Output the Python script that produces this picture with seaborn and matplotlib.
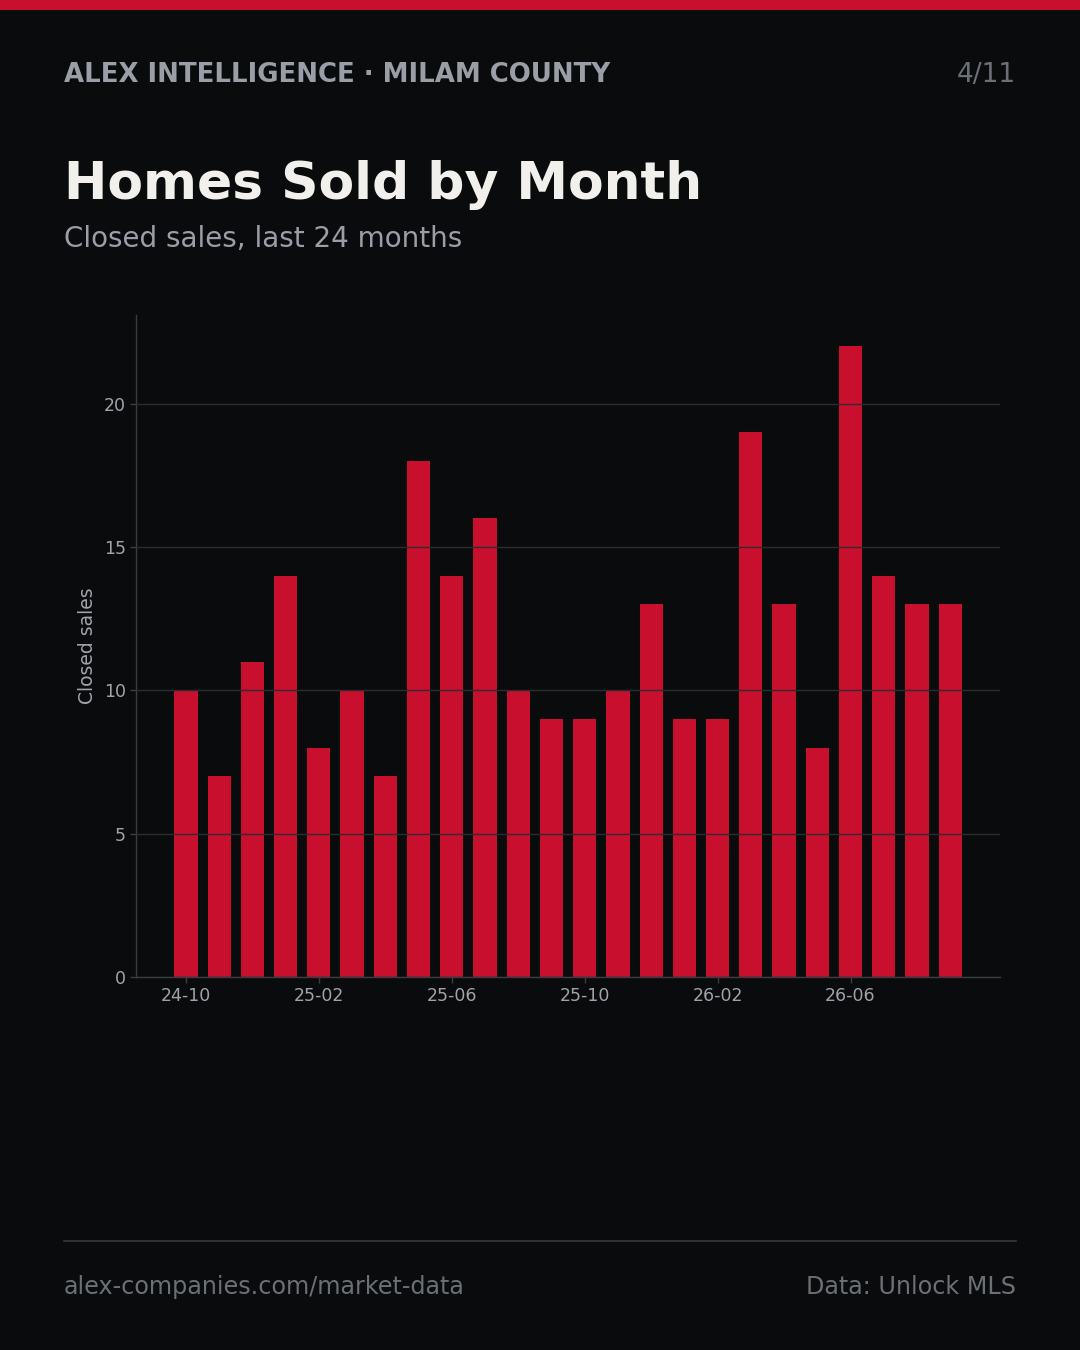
import matplotlib
matplotlib.use("Agg")
import matplotlib.pyplot as plt
import seaborn as sns
import pandas as pd
from matplotlib.lines import Line2D
from matplotlib.patches import Rectangle

months = ["24-10", "24-11", "24-12", "25-01", "25-02", "25-03", "25-04", "25-05",
          "25-06", "25-07", "25-08", "25-09", "25-10", "25-11", "25-12", "26-01",
          "26-02", "26-03", "26-04", "26-05", "26-06", "26-07", "26-08", "26-09"]
sales = [10, 7, 11, 14, 8, 10, 7, 18, 14, 16, 10, 9, 9, 10, 13, 9, 9, 19, 13, 8, 22, 14, 13, 13]
yticks = [0, 5, 10, 15, 20]

BG = "#0a0b0d"
RED = "#c8102e"
GRAY = "#9a9ea6"
DIM = "#6b6f76"
GRID = "#2a2c30"

sns.set_theme(style="dark")
plt.rcParams["font.family"] = ["DejaVu Sans"]

fig = plt.figure(figsize=(10.8, 13.5), dpi=100, facecolor=BG)
ax = fig.add_axes([0.126, 0.2763, 0.8, 0.4904], facecolor=BG)

df = pd.DataFrame({"month": months, "sales": sales})
sns.barplot(data=df, x="month", y="sales", color=RED, saturation=1, width=0.7, ax=ax)
for p in ax.patches:
    p.set_edgecolor("none")

ax.set_xlim(-1.5, len(months) + 0.5)
ax.set_ylim(0, max(sales) * 1.05)
ax.set_yticks(yticks)
ax.set_xticks(range(0, len(months), 4))
ax.set_xticklabels(months[::4])
ax.set_axisbelow(False)
ax.grid(axis="y", color=GRID, linewidth=1)
ax.grid(axis="x", visible=False)
for s in ["top", "right"]:
    ax.spines[s].set_visible(False)
for s in ["left", "bottom"]:
    ax.spines[s].set_visible(True)
    ax.spines[s].set_color("#3a3d42")
    ax.spines[s].set_linewidth(1)
ax.tick_params(axis="both", colors="#3a3d42", labelcolor="#a0a4aa", labelsize=12.5,
               length=4, width=1, left=True, bottom=True)
ax.set_xlabel("")
ax.set_ylabel("Closed sales", color="#a0a4aa", fontsize=13.5, labelpad=5)

fig.add_artist(Rectangle((0, 1 - 10 / 1350), 1, 10 / 1350, transform=fig.transFigure,
                         facecolor=RED, edgecolor="none"))
fig.text(64 / 1080, 1 - 75 / 1350, "ALEX INTELLIGENCE · MILAM COUNTY", color=GRAY,
         fontsize=18.7, fontweight="bold", va="center", ha="left")
fig.text(1016 / 1080, 1 - 75 / 1350, "4/11", color=DIM, fontsize=19, va="center", ha="right")
fig.text(64 / 1080, 1 - 185 / 1350, "Homes Sold by Month", color="#f2f0ec",
         fontsize=37.4, fontweight="bold", va="center", ha="left")
fig.text(64 / 1080, 1 - 239 / 1350, "Closed sales, last 24 months", color=GRAY,
         fontsize=20, va="center", ha="left")
fig.add_artist(Line2D([64 / 1080, 1016 / 1080], [1 - 1241 / 1350] * 2, transform=fig.transFigure,
                      color="#2e3136", linewidth=1.5))
fig.text(64 / 1080, 1 - 1287 / 1350, "alex-companies.com/market-data", color=DIM,
         fontsize=17.2, va="center", ha="left")
fig.text(1016 / 1080, 1 - 1287 / 1350, "Data: Unlock MLS", color=DIM,
         fontsize=17.2, va="center", ha="right")

fig.savefig("out.png", dpi=100, facecolor=BG)
